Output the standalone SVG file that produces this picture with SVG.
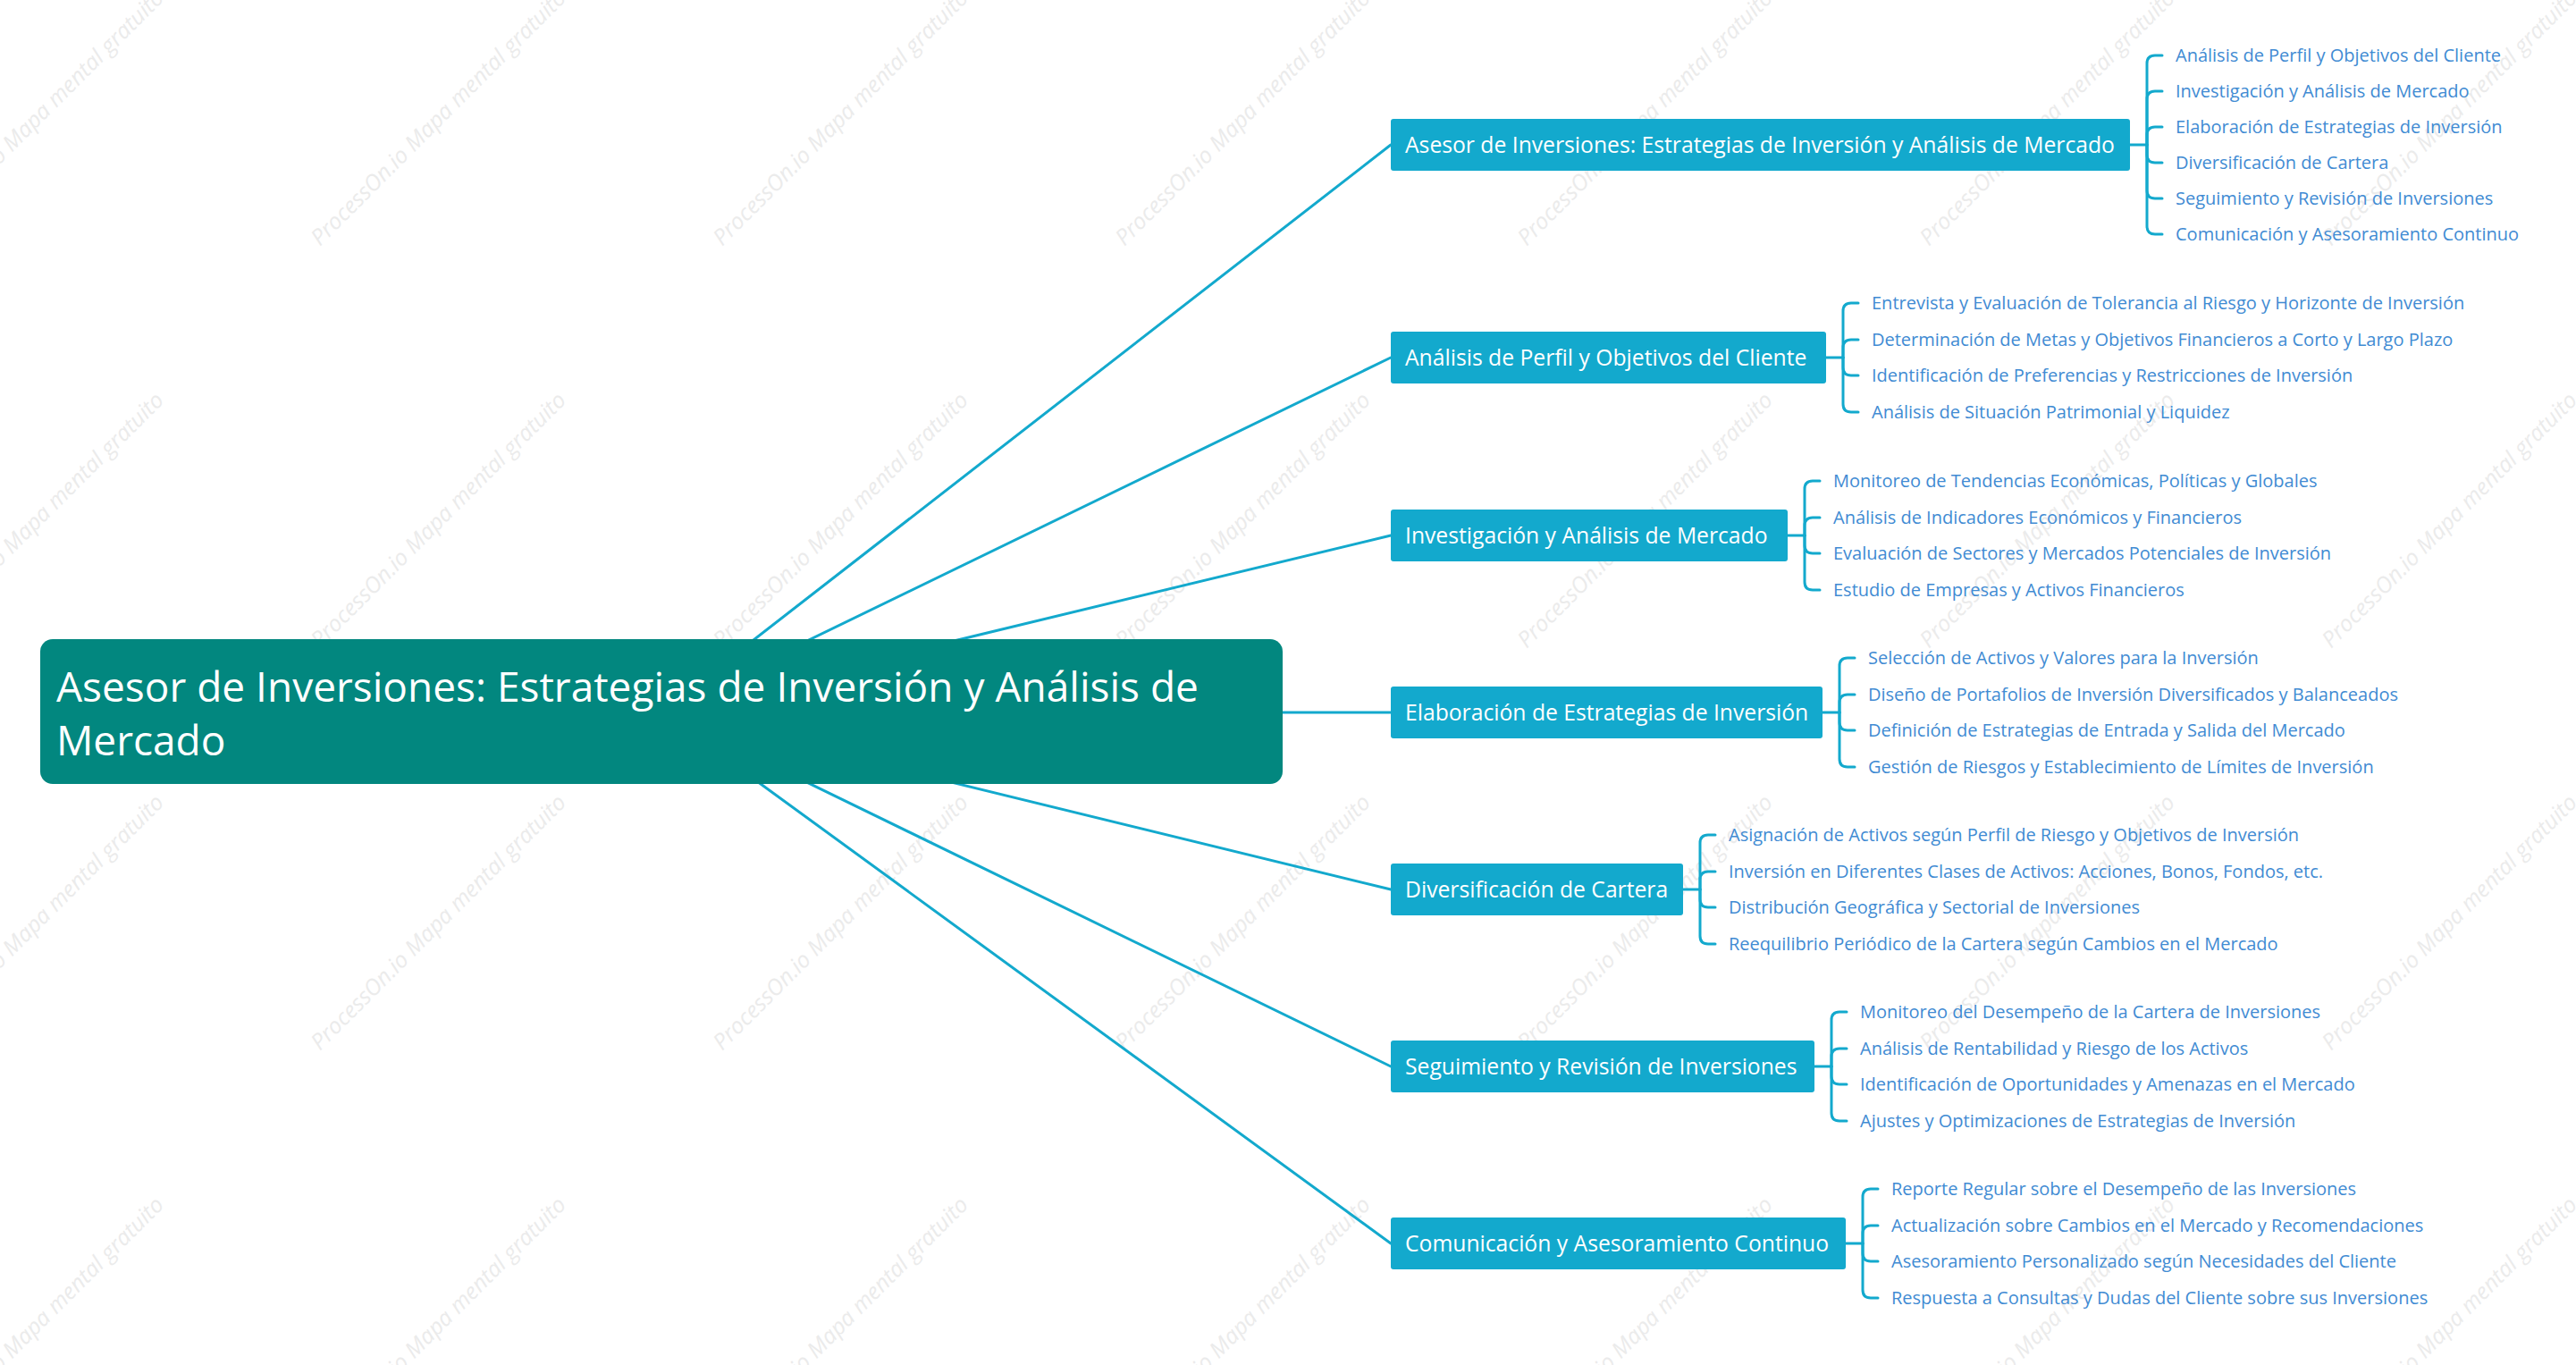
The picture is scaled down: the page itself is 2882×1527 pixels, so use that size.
<svg xmlns="http://www.w3.org/2000/svg" width="2882" height="1527" viewBox="0 0 2882 1527">
<style>
.wm{font-family:"Open Sans",sans-serif;font-style:italic;font-size:25px;fill:#ebebeb}
.ln{fill:none;stroke:#13a9cd;stroke-width:3;stroke-linecap:round;stroke-linejoin:round}
.b1{fill:#13a9cd}
.t1{font-family:"Open Sans",sans-serif;font-size:24.7px;fill:#ffffff}
.t2{font-family:"Open Sans",sans-serif;font-size:20px;fill:#418bd3}
.t0{font-family:"Open Sans",sans-serif;font-size:46px;fill:#ffffff}
</style>
<rect width="2882" height="1527" fill="#ffffff"/>
<g id="watermarks">
<text class="wm" transform="translate(-92,276) rotate(-45)">ProcessOn.io Mapa mental gratuito</text>
<text class="wm" transform="translate(358,276) rotate(-45)">ProcessOn.io Mapa mental gratuito</text>
<text class="wm" transform="translate(808,276) rotate(-45)">ProcessOn.io Mapa mental gratuito</text>
<text class="wm" transform="translate(1258,276) rotate(-45)">ProcessOn.io Mapa mental gratuito</text>
<text class="wm" transform="translate(1708,276) rotate(-45)">ProcessOn.io Mapa mental gratuito</text>
<text class="wm" transform="translate(2158,276) rotate(-45)">ProcessOn.io Mapa mental gratuito</text>
<text class="wm" transform="translate(2608,276) rotate(-45)">ProcessOn.io Mapa mental gratuito</text>
<text class="wm" transform="translate(-92,726) rotate(-45)">ProcessOn.io Mapa mental gratuito</text>
<text class="wm" transform="translate(358,726) rotate(-45)">ProcessOn.io Mapa mental gratuito</text>
<text class="wm" transform="translate(808,726) rotate(-45)">ProcessOn.io Mapa mental gratuito</text>
<text class="wm" transform="translate(1258,726) rotate(-45)">ProcessOn.io Mapa mental gratuito</text>
<text class="wm" transform="translate(1708,726) rotate(-45)">ProcessOn.io Mapa mental gratuito</text>
<text class="wm" transform="translate(2158,726) rotate(-45)">ProcessOn.io Mapa mental gratuito</text>
<text class="wm" transform="translate(2608,726) rotate(-45)">ProcessOn.io Mapa mental gratuito</text>
<text class="wm" transform="translate(-92,1176) rotate(-45)">ProcessOn.io Mapa mental gratuito</text>
<text class="wm" transform="translate(358,1176) rotate(-45)">ProcessOn.io Mapa mental gratuito</text>
<text class="wm" transform="translate(808,1176) rotate(-45)">ProcessOn.io Mapa mental gratuito</text>
<text class="wm" transform="translate(1258,1176) rotate(-45)">ProcessOn.io Mapa mental gratuito</text>
<text class="wm" transform="translate(1708,1176) rotate(-45)">ProcessOn.io Mapa mental gratuito</text>
<text class="wm" transform="translate(2158,1176) rotate(-45)">ProcessOn.io Mapa mental gratuito</text>
<text class="wm" transform="translate(2608,1176) rotate(-45)">ProcessOn.io Mapa mental gratuito</text>
<text class="wm" transform="translate(-92,1626) rotate(-45)">ProcessOn.io Mapa mental gratuito</text>
<text class="wm" transform="translate(358,1626) rotate(-45)">ProcessOn.io Mapa mental gratuito</text>
<text class="wm" transform="translate(808,1626) rotate(-45)">ProcessOn.io Mapa mental gratuito</text>
<text class="wm" transform="translate(1258,1626) rotate(-45)">ProcessOn.io Mapa mental gratuito</text>
<text class="wm" transform="translate(1708,1626) rotate(-45)">ProcessOn.io Mapa mental gratuito</text>
<text class="wm" transform="translate(2158,1626) rotate(-45)">ProcessOn.io Mapa mental gratuito</text>
<text class="wm" transform="translate(2608,1626) rotate(-45)">ProcessOn.io Mapa mental gratuito</text>
</g>
<g id="connectors">
<path class="ln" d="M740 796 L1556 162"/>
<path class="ln" d="M740 796 L1556 400"/>
<path class="ln" d="M740 796 L1556 599"/>
<path class="ln" d="M740 797 L1556 797"/>
<path class="ln" d="M740 796 L1556 995"/>
<path class="ln" d="M740 796 L1556 1193"/>
<path class="ln" d="M740 796 L1556 1391"/>
<path class="ln" d="M2383 162 H2402"/>
<path class="ln" d="M2402 162 V71 Q2402 62 2411 62 H2419"/>
<path class="ln" d="M2402 162 V111 Q2402 102 2411 102 H2419"/>
<path class="ln" d="M2402 162 V151 Q2402 142 2411 142 H2419"/>
<path class="ln" d="M2402 162 V173 Q2402 182 2411 182 H2419"/>
<path class="ln" d="M2402 162 V213 Q2402 222 2411 222 H2419"/>
<path class="ln" d="M2402 162 V253 Q2402 262 2411 262 H2419"/>
<path class="ln" d="M2043 400 H2062"/>
<path class="ln" d="M2062 400 V348 Q2062 339 2071 339 H2079"/>
<path class="ln" d="M2062 400 V389 Q2062 380 2071 380 H2079"/>
<path class="ln" d="M2062 400 V411 Q2062 420 2071 420 H2079"/>
<path class="ln" d="M2062 400 V452 Q2062 461 2071 461 H2079"/>
<path class="ln" d="M2000 599 H2019"/>
<path class="ln" d="M2019 599 V547 Q2019 538 2028 538 H2036"/>
<path class="ln" d="M2019 599 V588 Q2019 579 2028 579 H2036"/>
<path class="ln" d="M2019 599 V610 Q2019 619 2028 619 H2036"/>
<path class="ln" d="M2019 599 V651 Q2019 660 2028 660 H2036"/>
<path class="ln" d="M2039 797 H2058"/>
<path class="ln" d="M2058 797 V745 Q2058 736 2067 736 H2075"/>
<path class="ln" d="M2058 797 V786 Q2058 777 2067 777 H2075"/>
<path class="ln" d="M2058 797 V808 Q2058 817 2067 817 H2075"/>
<path class="ln" d="M2058 797 V849 Q2058 858 2067 858 H2075"/>
<path class="ln" d="M1883 995 H1902"/>
<path class="ln" d="M1902 995 V943 Q1902 934 1911 934 H1919"/>
<path class="ln" d="M1902 995 V984 Q1902 975 1911 975 H1919"/>
<path class="ln" d="M1902 995 V1006 Q1902 1015 1911 1015 H1919"/>
<path class="ln" d="M1902 995 V1047 Q1902 1056 1911 1056 H1919"/>
<path class="ln" d="M2030 1193 H2049"/>
<path class="ln" d="M2049 1193 V1141 Q2049 1132 2058 1132 H2066"/>
<path class="ln" d="M2049 1193 V1182 Q2049 1173 2058 1173 H2066"/>
<path class="ln" d="M2049 1193 V1204 Q2049 1213 2058 1213 H2066"/>
<path class="ln" d="M2049 1193 V1245 Q2049 1254 2058 1254 H2066"/>
<path class="ln" d="M2065 1391 H2084"/>
<path class="ln" d="M2084 1391 V1339 Q2084 1330 2093 1330 H2101"/>
<path class="ln" d="M2084 1391 V1380 Q2084 1371 2093 1371 H2101"/>
<path class="ln" d="M2084 1391 V1402 Q2084 1411 2093 1411 H2101"/>
<path class="ln" d="M2084 1391 V1443 Q2084 1452 2093 1452 H2101"/>
</g>
<g id="root">
<rect x="45" y="715" width="1390" height="162" rx="14" fill="#02877f"/>
<text class="t0" x="63" y="785">Asesor de Inversiones: Estrategias de Inversión y Análisis de</text>
<text class="t0" x="63" y="845">Mercado</text>
</g>
<g id="n1">
<rect class="b1" x="1556" y="133" width="827" height="58" rx="3"/>
<text class="t1" x="1572" y="171">Asesor de Inversiones: Estrategias de Inversión y Análisis de Mercado</text>
</g>
<g id="n1-children">
<text class="t2" x="2434" y="69">Análisis de Perfil y Objetivos del Cliente</text>
<text class="t2" x="2434" y="109">Investigación y Análisis de Mercado</text>
<text class="t2" x="2434" y="149">Elaboración de Estrategias de Inversión</text>
<text class="t2" x="2434" y="189">Diversificación de Cartera</text>
<text class="t2" x="2434" y="229">Seguimiento y Revisión de Inversiones</text>
<text class="t2" x="2434" y="269">Comunicación y Asesoramiento Continuo</text>
</g>
<g id="n2">
<rect class="b1" x="1556" y="371" width="487" height="58" rx="3"/>
<text class="t1" x="1572" y="409">Análisis de Perfil y Objetivos del Cliente</text>
</g>
<g id="n2-children">
<text class="t2" x="2094" y="346">Entrevista y Evaluación de Tolerancia al Riesgo y Horizonte de Inversión</text>
<text class="t2" x="2094" y="387">Determinación de Metas y Objetivos Financieros a Corto y Largo Plazo</text>
<text class="t2" x="2094" y="427">Identificación de Preferencias y Restricciones de Inversión</text>
<text class="t2" x="2094" y="468">Análisis de Situación Patrimonial y Liquidez</text>
</g>
<g id="n3">
<rect class="b1" x="1556" y="570" width="444" height="58" rx="3"/>
<text class="t1" x="1572" y="608">Investigación y Análisis de Mercado</text>
</g>
<g id="n3-children">
<text class="t2" x="2051" y="545">Monitoreo de Tendencias Económicas, Políticas y Globales</text>
<text class="t2" x="2051" y="586">Análisis de Indicadores Económicos y Financieros</text>
<text class="t2" x="2051" y="626">Evaluación de Sectores y Mercados Potenciales de Inversión</text>
<text class="t2" x="2051" y="667">Estudio de Empresas y Activos Financieros</text>
</g>
<g id="n4">
<rect class="b1" x="1556" y="768" width="483" height="58" rx="3"/>
<text class="t1" x="1572" y="806">Elaboración de Estrategias de Inversión</text>
</g>
<g id="n4-children">
<text class="t2" x="2090" y="743">Selección de Activos y Valores para la Inversión</text>
<text class="t2" x="2090" y="784">Diseño de Portafolios de Inversión Diversificados y Balanceados</text>
<text class="t2" x="2090" y="824">Definición de Estrategias de Entrada y Salida del Mercado</text>
<text class="t2" x="2090" y="865">Gestión de Riesgos y Establecimiento de Límites de Inversión</text>
</g>
<g id="n5">
<rect class="b1" x="1556" y="966" width="327" height="58" rx="3"/>
<text class="t1" x="1572" y="1004">Diversificación de Cartera</text>
</g>
<g id="n5-children">
<text class="t2" x="1934" y="941">Asignación de Activos según Perfil de Riesgo y Objetivos de Inversión</text>
<text class="t2" x="1934" y="982">Inversión en Diferentes Clases de Activos: Acciones, Bonos, Fondos, etc.</text>
<text class="t2" x="1934" y="1022">Distribución Geográfica y Sectorial de Inversiones</text>
<text class="t2" x="1934" y="1063">Reequilibrio Periódico de la Cartera según Cambios en el Mercado</text>
</g>
<g id="n6">
<rect class="b1" x="1556" y="1164" width="474" height="58" rx="3"/>
<text class="t1" x="1572" y="1202">Seguimiento y Revisión de Inversiones</text>
</g>
<g id="n6-children">
<text class="t2" x="2081" y="1139">Monitoreo del Desempeño de la Cartera de Inversiones</text>
<text class="t2" x="2081" y="1180">Análisis de Rentabilidad y Riesgo de los Activos</text>
<text class="t2" x="2081" y="1220">Identificación de Oportunidades y Amenazas en el Mercado</text>
<text class="t2" x="2081" y="1261">Ajustes y Optimizaciones de Estrategias de Inversión</text>
</g>
<g id="n7">
<rect class="b1" x="1556" y="1362" width="509" height="58" rx="3"/>
<text class="t1" x="1572" y="1400">Comunicación y Asesoramiento Continuo</text>
</g>
<g id="n7-children">
<text class="t2" x="2116" y="1337">Reporte Regular sobre el Desempeño de las Inversiones</text>
<text class="t2" x="2116" y="1378">Actualización sobre Cambios en el Mercado y Recomendaciones</text>
<text class="t2" x="2116" y="1418">Asesoramiento Personalizado según Necesidades del Cliente</text>
<text class="t2" x="2116" y="1459">Respuesta a Consultas y Dudas del Cliente sobre sus Inversiones</text>
</g>
</svg>
